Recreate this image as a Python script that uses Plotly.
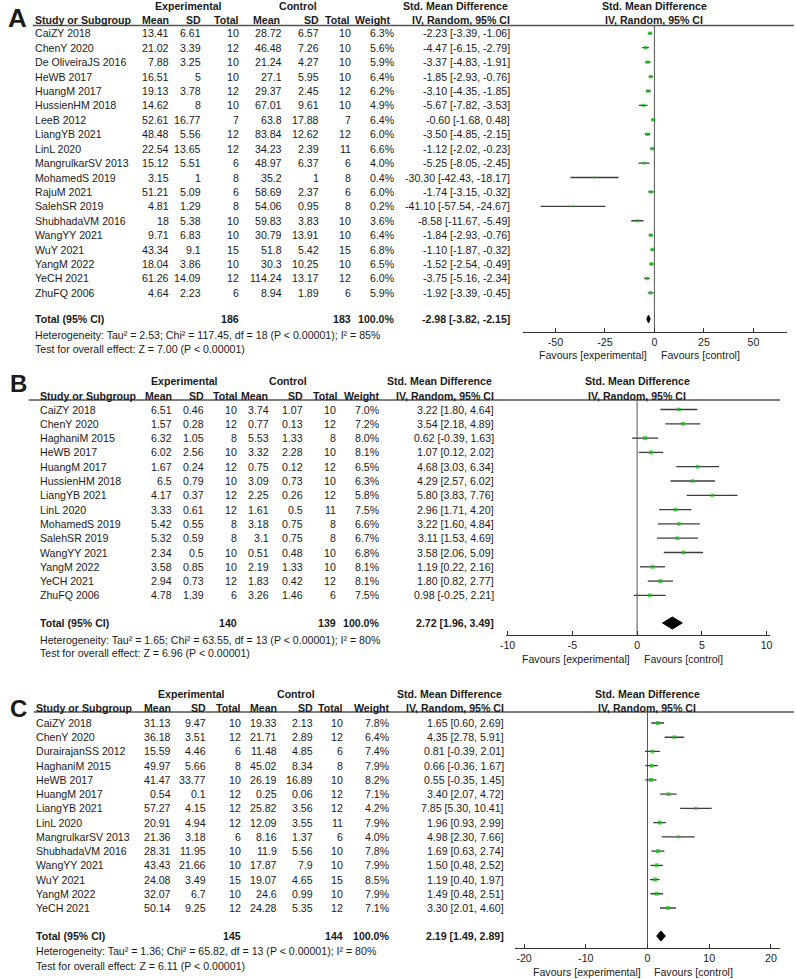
import plotly.graph_objects as go

W, H = 796, 979
FAM = "Liberation Sans, Arial, Helvetica, sans-serif"
FS = 10.6
TXT = "#1a1a1a"
GREEN = "#10c010"
LINEC = "#3c3c3c"

# ---------------- Panel A data ----------------
a_study = ["CaiZY 2018", "ChenY 2020", "De OliveiraJS 2016", "HeWB 2017", "HuangM 2017",
           "HussienHM 2018", "LeeB 2012", "LiangYB 2021", "LinL 2020", "MangrulkarSV 2013",
           "MohamedS 2019", "RajuM 2021", "SalehSR 2019", "ShubhadaVM 2016", "WangYY 2021",
           "WuY 2021", "YangM 2022", "YeCH 2021", "ZhuFQ 2006"]
a_exp_mean = [13.41, 21.02, 7.88, 16.51, 19.13, 14.62, 52.61, 48.48, 22.54, 15.12, 3.15, 51.21,
              4.81, 18, 9.71, 43.34, 18.04, 61.26, 4.64]
a_exp_sd = [6.61, 3.39, 3.25, 5, 3.78, 8, 16.77, 5.56, 13.65, 5.51, 1, 5.09, 1.29, 5.38, 6.83,
            9.1, 3.86, 14.09, 2.23]
a_exp_n = [10, 12, 10, 10, 12, 10, 7, 12, 12, 6, 8, 6, 8, 10, 10, 15, 10, 12, 6]
a_ctl_mean = [28.72, 46.48, 21.24, 27.1, 29.37, 67.01, 63.8, 83.84, 34.23, 48.97, 35.2, 58.69,
              54.06, 59.83, 30.79, 51.8, 30.3, 114.24, 8.94]
a_ctl_sd = [6.57, 7.26, 4.27, 5.95, 2.45, 9.61, 17.88, 12.62, 2.39, 6.37, 1, 2.37, 0.95, 3.83,
            13.91, 5.42, 10.25, 13.17, 1.89]
a_ctl_n = [10, 10, 10, 10, 12, 10, 7, 12, 11, 6, 8, 6, 8, 10, 10, 15, 10, 12, 6]
a_weight = [6.3, 5.6, 5.9, 6.4, 6.2, 4.9, 6.4, 6.0, 6.6, 4.0, 0.4, 6.0, 0.2, 3.6, 6.4, 6.8, 6.5,
            6.0, 5.9]
a_smd = [-2.23, -4.47, -3.37, -1.85, -3.10, -5.67, -0.60, -3.50, -1.12, -5.25, -30.30, -1.74,
         -41.10, -8.58, -1.84, -1.10, -1.52, -3.75, -1.92]
a_lo = [-3.39, -6.15, -4.83, -2.93, -4.35, -7.82, -1.68, -4.85, -2.02, -8.05, -42.43, -3.15,
        -57.54, -11.67, -2.93, -1.87, -2.54, -5.16, -3.39]
a_hi = [-1.06, -2.79, -1.91, -0.76, -1.85, -3.53, 0.48, -2.15, -0.23, -2.45, -18.17, -0.32,
        -24.67, -5.49, -0.76, -0.32, -0.49, -2.34, -0.45]
a_total_n = [186, 183]
a_total_smd = [-2.98, -3.82, -2.15]
a_het = "Heterogeneity: Tau² = 2.53; Chi² = 117.45, df = 18 (P < 0.00001); I² = 85%"
a_test = "Test for overall effect: Z = 7.00 (P < 0.00001)"
a_ticks = [-50, -25, 0, 25, 50]

# ---------------- Panel B data ----------------
b_study = ["CaiZY 2018", "ChenY 2020", "HaghaniM 2015", "HeWB 2017", "HuangM 2017",
           "HussienHM 2018", "LiangYB 2021", "LinL 2020", "MohamedS 2019", "SalehSR 2019",
           "WangYY 2021", "YangM 2022", "YeCH 2021", "ZhuFQ 2006"]
b_exp_mean = [6.51, 1.57, 6.32, 6.02, 1.67, 6.5, 4.17, 3.33, 5.42, 5.32, 2.34, 3.58, 2.94, 4.78]
b_exp_sd = [0.46, 0.28, 1.05, 2.56, 0.24, 0.79, 0.37, 0.61, 0.55, 0.59, 0.5, 0.85, 0.73, 1.39]
b_exp_n = [10, 12, 8, 10, 12, 10, 12, 12, 8, 8, 10, 10, 12, 6]
b_ctl_mean = [3.74, 0.77, 5.53, 3.32, 0.75, 3.09, 2.25, 1.61, 3.18, 3.1, 0.51, 2.19, 1.83, 3.26]
b_ctl_sd = [1.07, 0.13, 1.33, 2.28, 0.12, 0.73, 0.26, 0.5, 0.75, 0.75, 0.48, 1.33, 0.42, 1.46]
b_ctl_n = [10, 12, 8, 10, 12, 10, 12, 11, 8, 8, 10, 10, 12, 6]
b_weight = [7.0, 7.2, 8.0, 8.1, 6.5, 6.3, 5.8, 7.5, 6.6, 6.7, 6.8, 8.1, 8.1, 7.5]
b_smd = [3.22, 3.54, 0.62, 1.07, 4.68, 4.29, 5.80, 2.96, 3.22, 3.11, 3.58, 1.19, 1.80, 0.98]
b_lo = [1.80, 2.18, -0.39, 0.12, 3.03, 2.57, 3.83, 1.71, 1.60, 1.53, 2.06, 0.22, 0.82, -0.25]
b_hi = [4.64, 4.89, 1.63, 2.02, 6.34, 6.02, 7.76, 4.20, 4.84, 4.69, 5.09, 2.16, 2.77, 2.21]
b_total_n = [140, 139]
b_total_smd = [2.72, 1.96, 3.49]
b_het = "Heterogeneity: Tau² = 1.65; Chi² = 63.55, df = 13 (P < 0.00001); I² = 80%"
b_test = "Test for overall effect: Z = 6.96 (P < 0.00001)"
b_ticks = [-10, -5, 0, 5, 10]

# ---------------- Panel C data ----------------
c_study = ["CaiZY 2018", "ChenY 2020", "DurairajanSS 2012", "HaghaniM 2015", "HeWB 2017",
           "HuangM 2017", "LiangYB 2021", "LinL 2020", "MangrulkarSV 2013", "ShubhadaVM 2016",
           "WangYY 2021", "WuY 2021", "YangM 2022", "YeCH 2021"]
c_exp_mean = [31.13, 36.18, 15.59, 49.97, 41.47, 0.54, 57.27, 20.91, 21.36, 28.31, 43.43, 24.08,
              32.07, 50.14]
c_exp_sd = [9.47, 3.51, 4.46, 5.66, 33.77, 0.1, 4.15, 4.94, 3.18, 11.95, 21.66, 3.49, 6.7, 9.25]
c_exp_n = [10, 12, 6, 8, 10, 12, 12, 12, 6, 10, 10, 15, 10, 12]
c_ctl_mean = [19.33, 21.71, 11.48, 45.02, 26.19, 0.25, 25.82, 12.09, 8.16, 11.9, 17.87, 19.07,
              24.6, 24.28]
c_ctl_sd = [2.13, 2.89, 4.85, 8.34, 16.89, 0.06, 3.56, 3.55, 1.37, 5.56, 7.9, 4.65, 0.99, 5.35]
c_ctl_n = [10, 12, 6, 8, 10, 12, 12, 11, 6, 10, 10, 15, 10, 12]
c_weight = [7.8, 6.4, 7.4, 7.9, 8.2, 7.1, 4.2, 7.9, 4.0, 7.8, 7.9, 8.5, 7.9, 7.1]
c_smd = [1.65, 4.35, 0.81, 0.66, 0.55, 3.40, 7.85, 1.96, 4.98, 1.69, 1.50, 1.19, 1.49, 3.30]
c_lo = [0.60, 2.78, -0.39, -0.36, -0.35, 2.07, 5.30, 0.93, 2.30, 0.63, 0.48, 0.40, 0.48, 2.01]
c_hi = [2.69, 5.91, 2.01, 1.67, 1.45, 4.72, 10.41, 2.99, 7.66, 2.74, 2.52, 1.97, 2.51, 4.60]
c_total_n = [145, 144]
c_total_smd = [2.19, 1.49, 2.89]
c_het = "Heterogeneity: Tau² = 1.36; Chi² = 65.82, df = 13 (P < 0.00001); I² = 80%"
c_test = "Test for overall effect: Z = 6.11 (P < 0.00001)"
c_ticks = [-20, -10, 0, 10, 20]

header1 = ["Experimental", "Control", "Std. Mean Difference"]
header2 = ["Study or Subgroup", "Mean", "SD", "Total", "Mean", "SD", "Total", "Weight",
           "IV, Random, 95% CI"]
fav_left = "Favours [experimental]"
fav_right = "Favours [control]"

panels = [
    dict(letter="A", study=a_study, cols=[a_exp_mean, a_exp_sd, a_exp_n, a_ctl_mean, a_ctl_sd, a_ctl_n],
         w=a_weight, smd=a_smd, lo=a_lo, hi=a_hi, tn=a_total_n, tsmd=a_total_smd,
         het=a_het, test=a_test, ticks=a_ticks),
    dict(letter="B", study=b_study, cols=[b_exp_mean, b_exp_sd, b_exp_n, b_ctl_mean, b_ctl_sd, b_ctl_n],
         w=b_weight, smd=b_smd, lo=b_lo, hi=b_hi, tn=b_total_n, tsmd=b_total_smd,
         het=b_het, test=b_test, ticks=b_ticks),
    dict(letter="C", study=c_study, cols=[c_exp_mean, c_exp_sd, c_exp_n, c_ctl_mean, c_ctl_sd, c_ctl_n],
         w=c_weight, smd=c_smd, lo=c_lo, hi=c_hi, tn=c_total_n, tsmd=c_total_smd,
         het=c_het, test=c_test, ticks=c_ticks),
]

# ---------------- geometry (pixel layout) ----------------
geom = [
    dict(letter_x=0, letter_y=17.5, letter_fs=26, h1=6, h2=20, hline=25.5, hline_x=(27, 796),
         row0=33.3, step=14.42, tot_y=319, het_y=335, test_y=349, name_x=27,
         col_x=[167, 198.5, 237, 281, 318, 351, 395], hdr_x=[167, 199, 237, 279, 318, 350, 391],
         ci_x=511, exp_c=184, ctl_c=295, ax_y=332, ax_px=(522, 789), zero_px=655, scale=2.0,
         fav_y=355, dia_h=4),
    dict(letter_x=2, letter_y=383.5, letter_fs=24, h1=381, h2=396, hline=400, hline_x=(23, 782),
         row0=409.5, step=14.3, tot_y=623, het_y=640, test_y=653, name_x=32,
         col_x=[170, 202, 235, 268, 302, 335, 380], hdr_x=[170, 202, 236, 267, 302, 337, 380],
         ci_x=495, exp_c=180, ctl_c=285, ax_y=635, ax_px=(505, 772), zero_px=637.5, scale=13.08,
         fav_y=659, dia_h=6),
    dict(letter_x=2, letter_y=708.5, letter_fs=24, h1=694, h2=708, hline=712, hline_x=(28, 796),
         row0=723, step=14.23, tot_y=936, het_y=951, test_y=966, name_x=28,
         col_x=[169, 204, 239, 276, 312, 342, 390], hdr_x=[169, 204, 239, 276, 312, 342, 390],
         ci_x=505, exp_c=187, ctl_c=293, ax_y=948, ax_px=(514.3, 781.7), zero_px=648, scale=6.235,
         fav_y=972, dia_h=5),
]


def g(v):
    return f"{v:g}"


def ci_txt(s, l, h):
    return f"{s:.2f} [{l:.2f}, {h:.2f}]"


fig = go.Figure()
ann = []
shapes = []


def add_text(x, y, text, anchor, bold=False, size=FS):
    ann.append(dict(x=x, y=y, xref="x", yref="y", text=(f"<b>{text}</b>" if bold else text),
                    showarrow=False, xanchor=anchor, yanchor="middle",
                    font=dict(family=FAM, size=size, color=TXT)))


layout_axes = {}
for k, (p, gm) in enumerate(zip(panels, geom)):
    ax_id = k + 2
    xname = f"x{ax_id}"
    n = len(p["study"])
    rows_y = [gm["row0"] + i * gm["step"] for i in range(n)]

    # letter
    add_text(gm["letter_x"], gm["letter_y"], p["letter"], "left", bold=True, size=gm["letter_fs"])
    # header row 1
    add_text(gm["exp_c"], gm["h1"], header1[0], "center", bold=True)
    add_text(gm["ctl_c"], gm["h1"], header1[1], "center", bold=True)
    add_text(gm["ci_x"] - 57, gm["h1"], header1[2], "center", bold=True)
    add_text(gm["zero_px"], gm["h1"], header1[2], "center", bold=True)
    # header row 2
    add_text(gm["name_x"], gm["h2"], header2[0], "left", bold=True)
    for cx, lab in zip(gm["hdr_x"], header2[1:8]):
        add_text(cx, gm["h2"], lab, "right", bold=True)
    add_text(gm["ci_x"], gm["h2"], header2[8], "right", bold=True)
    add_text(gm["zero_px"], gm["h2"], header2[8], "center", bold=True)
    shapes.append(dict(type="line", xref="x", yref="y", x0=gm["hline_x"][0], x1=gm["hline_x"][1],
                       y0=gm["hline"], y1=gm["hline"], line=dict(color="#555555", width=1.3)))

    # study rows
    for i in range(n):
        y = rows_y[i]
        add_text(gm["name_x"], y, p["study"][i], "left")
        for cx, col in zip(gm["col_x"][:6], p["cols"]):
            add_text(cx, y, g(col[i]), "right")
        add_text(gm["col_x"][6], y, f"{p['w'][i]:.1f}%", "right")
        add_text(gm["ci_x"], y, ci_txt(p["smd"][i], p["lo"][i], p["hi"][i]), "right")

    # total row
    ty = gm["tot_y"]
    add_text(gm["name_x"], ty, "Total (95% CI)", "left", bold=True)
    add_text(gm["col_x"][2], ty, str(p["tn"][0]), "right", bold=True)
    add_text(gm["col_x"][5], ty, str(p["tn"][1]), "right", bold=True)
    add_text(gm["col_x"][6], ty, "100.0%", "right", bold=True)
    add_text(gm["ci_x"], ty, ci_txt(*p["tsmd"]), "right", bold=True)
    add_text(gm["name_x"], gm["het_y"], p["het"], "left")
    add_text(gm["name_x"], gm["test_y"], p["test"], "left")

    # favours
    add_text(gm["zero_px"] - 5, gm["fav_y"], fav_left, "right")
    add_text(gm["zero_px"] + 5, gm["fav_y"], fav_right, "left")

    # forest axis
    rng = [(gm["ax_px"][0] - gm["zero_px"]) / gm["scale"], (gm["ax_px"][1] - gm["zero_px"]) / gm["scale"]]
    layout_axes[f"xaxis{ax_id}"] = dict(
        domain=[gm["ax_px"][0] / W, gm["ax_px"][1] / W], range=rng, anchor="free",
        position=1 - gm["ax_y"] / H, showline=True, linecolor="#333333", linewidth=1,
        ticks="inside", ticklen=4, tickcolor="#333333", tickvals=p["ticks"],
        ticktext=[str(t) for t in p["ticks"]], showgrid=False, zeroline=False, fixedrange=True,
        tickfont=dict(family=FAM, size=FS, color=TXT))

    # zero reference line
    shapes.append(dict(type="line", xref=xname, yref="y", x0=0, x1=0, y0=gm["hline"], y1=gm["ax_y"],
                       line=dict(color="#555555", width=1), layer="below"))

    # CI lines
    lx, ly = [], []
    for i in range(n):
        lx += [p["lo"][i], p["hi"][i], None]
        ly += [rows_y[i], rows_y[i], None]
    fig.add_trace(go.Scatter(x=lx, y=ly, xaxis=xname, yaxis="y", mode="lines",
                             line=dict(color=LINEC, width=1.3), hoverinfo="skip", cliponaxis=False))
    # point estimates
    fig.add_trace(go.Scatter(x=p["smd"], y=rows_y, xaxis=xname, yaxis="y", mode="markers",
                             marker=dict(symbol="square", color=GREEN,
                                         size=[2 + wv * 0.25 for wv in p["w"]], line=dict(width=0)),
                             hoverinfo="skip", cliponaxis=False))
    # total diamond
    est, tlo, thi = p["tsmd"]
    dh = gm["dia_h"]
    fig.add_trace(go.Scatter(x=[tlo, est, thi, est, tlo], y=[ty, ty - dh, ty, ty + dh, ty],
                             xaxis=xname, yaxis="y", mode="lines", fill="toself",
                             fillcolor="black", line=dict(color="black", width=1),
                             hoverinfo="skip", cliponaxis=False))

fig.update_layout(
    width=W, height=H, margin=dict(l=0, r=0, t=0, b=0),
    paper_bgcolor="white", plot_bgcolor="rgba(0,0,0,0)", showlegend=False, hovermode=False,
    xaxis=dict(range=[0, W], domain=[0, 1], visible=False, fixedrange=True),
    yaxis=dict(range=[H, 0], domain=[0, 1], visible=False, fixedrange=True),
    annotations=ann, shapes=shapes, **layout_axes)

fig.write_html("out.html", config={"displayModeBar": False, "staticPlot": True},
               post_script="document.body.style.margin='0';document.body.style.overflow='hidden';")
